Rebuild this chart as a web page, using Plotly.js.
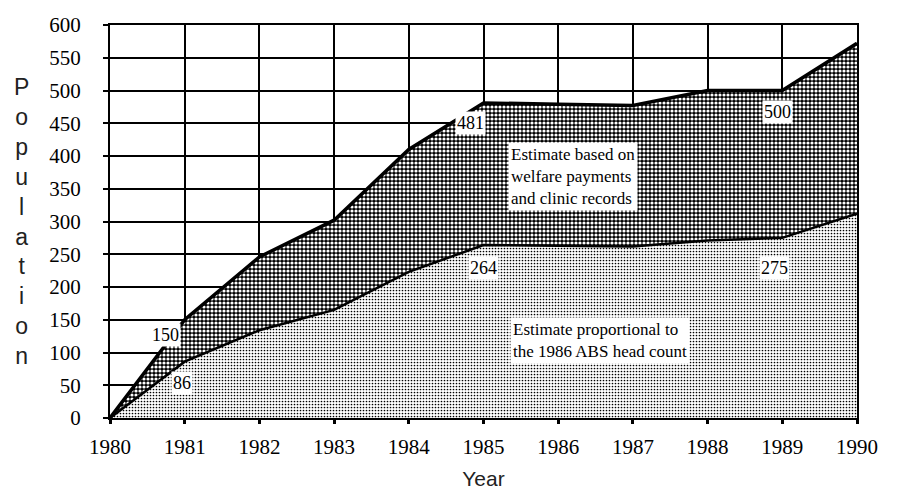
<!DOCTYPE html>
<html>
<head>
<meta charset="utf-8">
<script src="https://cdn.plot.ly/plotly-3.0.1.min.js"></script>
<style>html,body{margin:0;padding:0;background:#fff;}#chart{width:904px;height:492px;}</style>
</head>
<body>
<div id="chart"></div>
<script>
const years = [1980, 1981, 1982, 1983, 1984, 1985, 1986, 1987, 1988, 1989, 1990];
const headCount = [0, 86, 134, 165, 223, 264, 263, 262, 271, 275, 312];
const welfareTotal = [0, 150, 246, 302, 410, 481, 479, 477, 500, 500, 572];
const xTicks = [1980, 1981, 1982, 1983, 1984, 1985, 1986, 1987, 1988, 1989, 1990];
const yTicks = [0, 50, 100, 150, 200, 250, 300, 350, 400, 450, 500, 550, 600];

const serif = 'Liberation Serif';
const sans = 'Liberation Sans';

const traces = [
  {
    x: years, y: headCount, type: 'scatter', mode: 'lines',
    fill: 'tozeroy', fillcolor: 'rgba(0,0,0,0)',
    fillpattern: {shape: '.', fgcolor: '#000', bgcolor: '#fff', size: 3, solidity: 0.25},
    line: {color: '#000', width: 2.5}, hoverinfo: 'skip', showlegend: false
  },
  {
    x: years, y: welfareTotal, type: 'scatter', mode: 'lines',
    fill: 'tonexty', fillcolor: 'rgba(0,0,0,0)',
    fillpattern: {shape: '.', fgcolor: '#fff', bgcolor: '#000', size: 4, solidity: 0.5},
    line: {color: '#000', width: 3.5}, hoverinfo: 'skip', showlegend: false
  }
];

function numLabel(text, x, y) {
  return {text: text, x: x, y: y, xref: 'x', yref: 'y', showarrow: false,
    font: {family: serif, size: 18, color: '#000'}, bgcolor: '#fff', borderpad: 1};
}

const annotations = [
  numLabel('150', 1980.74, 127),
  numLabel('86', 1980.96, 53),
  numLabel('481', 1984.82, 451),
  numLabel('264', 1985.0, 229),
  numLabel('500', 1988.93, 467),
  numLabel('275', 1988.9, 229),
  {text: 'Estimate based on<br>welfare payments<br>and clinic records', x: 1986.2, y: 368,
   xref: 'x', yref: 'y', showarrow: false, align: 'left',
   font: {family: serif, size: 17, color: '#000'}, bgcolor: '#fff', borderpad: 2},
  {text: 'Estimate proportional to<br>the 1986 ABS head count', x: 1986.56, y: 118,
   xref: 'x', yref: 'y', showarrow: false, align: 'left',
   font: {family: serif, size: 17, color: '#000'}, bgcolor: '#fff', borderpad: 2},
  {text: "OLG's<br>FWD<br>EST", x: 1990.08, y: 534, xref: 'x', yref: 'y',
   xanchor: 'left', showarrow: false, align: 'left',
   font: {family: serif, size: 14, color: '#000'}},
  {text: 'P<br>o<br>p<br>u<br>l<br>a<br>t<br>i<br>o<br>n',
   x: -0.118, y: 0.5, xref: 'paper', yref: 'paper', xanchor: 'center', yanchor: 'middle',
   showarrow: false, align: 'center', font: {family: sans, size: 23, color: '#222'}}
];

const layout = {
  width: 904, height: 492,
  margin: {l: 110, r: 47, t: 25, b: 74},
  paper_bgcolor: '#fff', plot_bgcolor: '#fff',
  font: {family: serif, color: '#000'},
  xaxis: {
    range: [1980, 1990], tickvals: xTicks, ticktext: xTicks.map(String),
    showgrid: true, gridcolor: '#000', gridwidth: 2,
    showline: true, linecolor: '#000', linewidth: 2, mirror: true,
    ticks: 'outside', ticklen: 4, tickwidth: 3, tickcolor: '#000',
    tickfont: {family: serif, size: 21, color: '#000'},
    ticklabelstandoff: 5,
    zeroline: false,
    title: {text: 'Year', font: {family: sans, size: 21, color: '#222'}, standoff: 13}
  },
  yaxis: {
    range: [0, 600], tickvals: yTicks, ticktext: yTicks.map(String),
    showgrid: true, gridcolor: '#000', gridwidth: 2,
    showline: true, linecolor: '#000', linewidth: 2, mirror: true,
    ticks: 'outside', ticklen: 5, tickwidth: 2, tickcolor: '#000',
    tickfont: {family: serif, size: 21, color: '#000'},
    ticklabelstandoff: 18,
    zeroline: false
  },
  annotations: annotations
};

Plotly.newPlot('chart', traces, layout, {displayModeBar: false, staticPlot: true});
</script>
</body>
</html>
